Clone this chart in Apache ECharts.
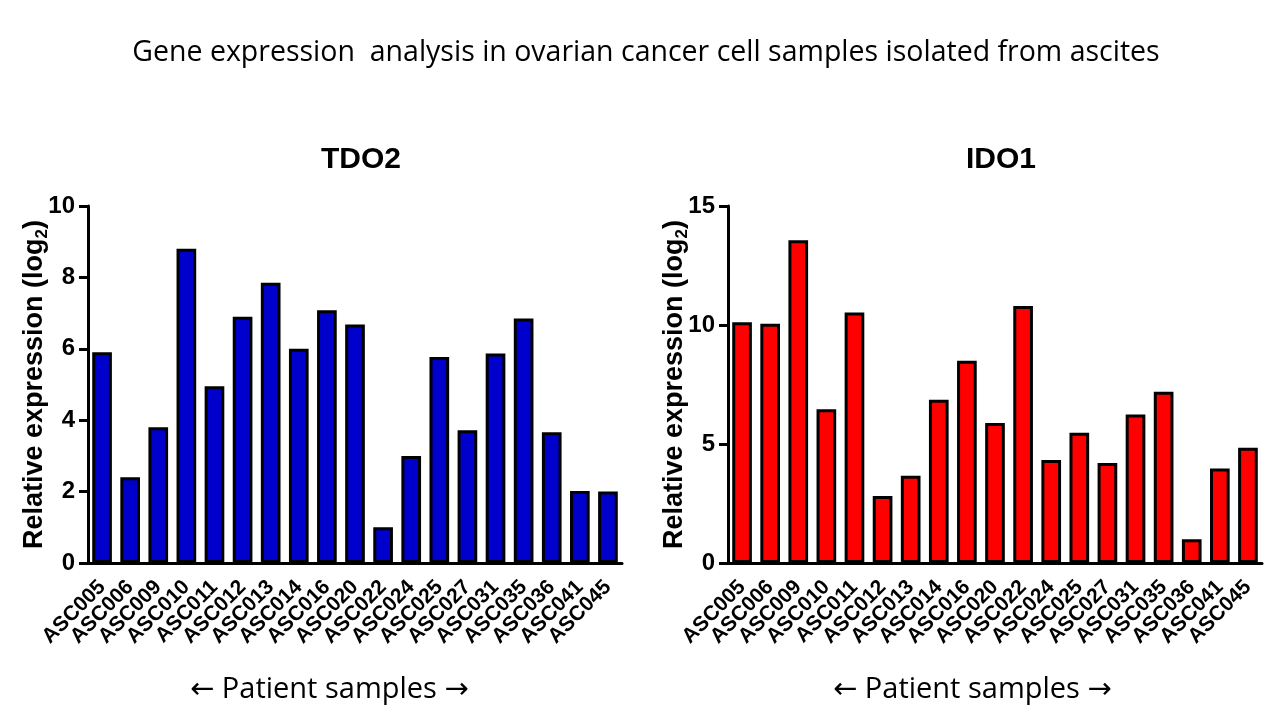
<!DOCTYPE html>
<html>
<head>
<meta charset="utf-8" />
<title>TDO2 / IDO1 expression</title>
<script src="https://cdn.jsdelivr.net/npm/echarts@6/dist/echarts.min.js"></script>
<style>
  html, body { margin: 0; padding: 0; background: #fff; }
  #chart { width: 1280px; height: 720px; }
</style>
</head>
<body>
<div id="chart"></div>
<script>
// patient samples (same for both panels)
var samples = ['ASC005','ASC006','ASC009','ASC010','ASC011','ASC012','ASC013','ASC014','ASC016',
               'ASC020','ASC022','ASC024','ASC025','ASC027','ASC031','ASC035','ASC036','ASC041','ASC045'];
// relative expression (log2)
var tdo2 = [5.9, 2.4, 3.8, 8.8, 4.95, 6.9, 7.85, 6.0, 7.08, 6.68, 1.0, 3.0, 5.77, 3.72, 5.87, 6.85, 3.66, 2.02, 2.0];
var ido1 = [10.12, 10.05, 13.56, 6.46, 10.52, 2.82, 3.67, 6.86, 8.5, 5.88, 10.8, 4.33, 5.47, 4.2, 6.24, 7.2, 1.0, 3.97, 4.84];
var panelTitles = ['TDO2', 'IDO1'];
var mainTitle = 'Gene expression  analysis in ovarian cancer cell samples isolated from ascites';

var F = '"Liberation Sans", Arial, sans-serif';
var H = '"Open Sans", "DejaVu Sans", sans-serif';

function xAx(i) {
  return {
    type: 'category', gridIndex: i, data: samples,
    axisLine: { lineStyle: { color: '#000', width: 3 } },
    axisTick: { alignWithLabel: true, length: 8, lineStyle: { color: '#000', width: 3 } },
    axisLabel: { rotate: 45, interval: 0, margin: 21, color: '#000', fontFamily: F, fontWeight: 'bold', fontSize: 21 }
  };
}
function yAx(i, max, step) {
  return {
    type: 'value', gridIndex: i, min: 0, max: max, interval: step,
    name: '{a|Relative expression (log}{s|2}{a|)}',
    nameLocation: 'middle', nameGap: 37, nameMoveOverlap: false,
    nameTextStyle: {
      rich: {
        a: { fontFamily: F, fontWeight: 'bold', fontSize: 27, color: '#000', lineHeight: 32 },
        s: { fontFamily: F, fontWeight: 'bold', fontSize: 17, color: '#000', lineHeight: 32, verticalAlign: 'bottom', padding: [12, 0, 0, 0] }
      }
    },
    splitLine: { show: false },
    axisLine: { show: true, lineStyle: { color: '#000', width: 3 } },
    axisTick: { show: true, length: 9, lineStyle: { color: '#000', width: 3 } },
    axisLabel: { margin: 13, color: '#000', fontFamily: F, fontWeight: 'bold', fontSize: 24 }
  };
}
function barSeries(i, data, color) {
  return {
    type: 'bar', xAxisIndex: i, yAxisIndex: i, data: data,
    barCategoryGap: '30%',
    itemStyle: { color: color, borderColor: '#000', borderWidth: 3 }
  };
}

var chart = echarts.init(document.getElementById('chart'));
chart.setOption({
  animation: false,
  backgroundColor: '#fff',
  title: [
    { text: mainTitle, left: 641, top: 33, textAlign: 'center',
      textStyle: { fontFamily: H, fontWeight: 'normal', fontSize: 28.5, color: '#000' } },
    { text: panelTitles[0], left: 356, top: 140, textAlign: 'center',
      textStyle: { fontFamily: F, fontWeight: 'bold', fontSize: 30, color: '#000' } },
    { text: panelTitles[1], left: 996, top: 140, textAlign: 'center',
      textStyle: { fontFamily: F, fontWeight: 'bold', fontSize: 30, color: '#000' } }
  ],
  grid: [
    { left: 88, top: 206, width: 534, height: 357 },
    { left: 728, top: 206, width: 534, height: 357 }
  ],
  xAxis: [xAx(0), xAx(1)],
  yAxis: [yAx(0, 10, 2), yAx(1, 15, 5)],
  series: [barSeries(0, tdo2, '#0000cc'), barSeries(1, ido1, '#ff0000')],
  graphic: [
    { type: 'text', left: 190, top: 675,
      style: { text: '\u2190 Patient samples \u2192', fill: '#000', font: '29px ' + H } },
    { type: 'text', left: 833, top: 675,
      style: { text: '\u2190 Patient samples \u2192', fill: '#000', font: '29px ' + H } }
  ]
});
</script>
</body>
</html>
